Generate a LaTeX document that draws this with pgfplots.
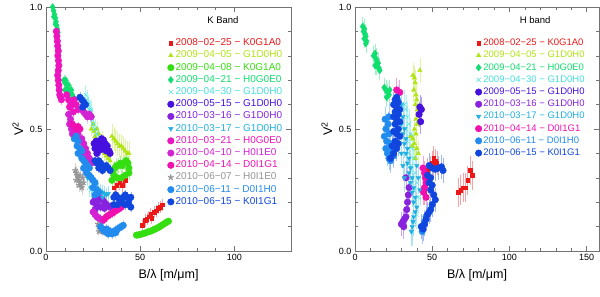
\documentclass[border=0pt]{standalone}
\usepackage{fontspec}
\setmainfont{Liberation Sans}
\usepackage{pgfplots}
\pgfplotsset{compat=1.18}
\definecolor{cRed}{RGB}{236,24,24}
\definecolor{cYG}{RGB}{176,228,20}
\definecolor{cGreen}{RGB}{52,222,16}
\definecolor{cSpring}{RGB}{16,222,110}
\definecolor{cCyan}{RGB}{70,222,222}
\definecolor{cViolet}{RGB}{70,16,222}
\definecolor{cPurple}{RGB}{136,34,222}
\definecolor{cCyanBlue}{RGB}{34,176,226}
\definecolor{cMag}{RGB}{236,20,190}
\definecolor{cMagB}{RGB}{210,34,210}
\definecolor{cMagC}{RGB}{240,16,176}
\definecolor{cGray}{RGB}{150,150,150}
\definecolor{cAzure}{RGB}{34,140,238}
\definecolor{cBlue}{RGB}{16,70,222}
\pgfplotsset{
  ser/.style n args={3}{only marks, color=#1, mark=#2, mark size=#3,
    error bars/y dir=both, error bars/y explicit, error bars/error mark=none,
    error bars/error bar style={#1!40, line width=0.6pt}},
  frame/.style={scale only axis, height=244pt, ymin=0, ymax=1,
    ytick={0,0.5,1}, minor x tick num=4, minor y tick num=4,
    tick align=inside, major tick length=5pt, minor tick length=3pt,
    axis line style={black!55}, tick style={black!55, line width=0.5pt},
    yticklabel style={/pgf/number format/.cd, fixed, fixed zerofill, precision=1},
    tick label style={font=\fontsize{9}{11}\selectfont},
    /pgf/number format/assume math mode=true,
    xlabel={B/λ [m/μm]}, ylabel={V\textsuperscript{2}},
    label style={font=\fontsize{12.5}{14}\selectfont},
    xlabel style={yshift=-2pt},
    legend cell align=left,
    legend style={draw=none, fill=none, anchor=north west,
      row sep=0.2pt,
      nodes={inner sep=1.5pt, text height=7pt, text depth=2pt}},
    clip=true}
}
\begin{document}
\begin{tikzpicture}
\useasboundingbox (0,0) rectangle (600pt,297pt);
% ---------------- K band ----------------
\begin{axis}[frame, at={(46pt,46pt)}, anchor=south west, width=245pt,
  xmin=0, xmax=130, xtick={0,50,100},
  legend style={at={(0.483,0.885)}, font=\fontsize{10}{11}\selectfont}]
\addplot[ser={cRed}{square*}{1.8pt}] table[y error index=2]{
x y e
36 0.26 0.03
37.5 0.27 0.03
39 0.28 0.03
40.5 0.27 0.03
42 0.29 0.03
51 0.105 0.02
52.5 0.125 0.025
53.5 0.13 0.025
54.5 0.14 0.025
55.5 0.15 0.025
56 0.135 0.025
57.5 0.16 0.025
58.5 0.165 0.025
59.5 0.175 0.025
60.5 0.18 0.025
61.5 0.19 0.025
};
\addlegendentry{\textcolor{cRed}{2008−02−25 − K0G1A0}}
\addplot[ser={cYG}{triangle*}{2.6pt}] table[y error index=2]{
x y e
24 0.50 0.03
25 0.52 0.03
25.5 0.49 0.03
26 0.47 0.03
27 0.50 0.03
28 0.48 0.03
28.5 0.45 0.03
29 0.43 0.03
30 0.41 0.03
31 0.40 0.03
32 0.39 0.03
33 0.38 0.03
34 0.37 0.03
27 0.44 0.03
30 0.46 0.03
35 0.47 0.05
36 0.46 0.05
37 0.45 0.05
38 0.44 0.05
39 0.43 0.05
40 0.43 0.05
41 0.42 0.05
42 0.41 0.05
43 0.40 0.05
44 0.40 0.05
26.5 0.21 0.02
27.5 0.20 0.02
};
\addlegendentry{\textcolor{cYG}{2009−04−05 − G1D0H0}}
\addplot[ser={cGreen}{*}{3.3pt}] table[y error index=2]{
x y e
35.5 0.33 0.03
36.5 0.34 0.03
37.5 0.35 0.03
38.5 0.35 0.03
39.5 0.36 0.03
40.5 0.35 0.03
41.5 0.36 0.03
42.5 0.37 0.03
43.5 0.36 0.03
44 0.34 0.03
36 0.31 0.03
38 0.30 0.03
40 0.30 0.03
42 0.31 0.03
44 0.32 0.03
35 0.29 0.03
48 0.065 0.01
49 0.066 0.01
50 0.068 0.01
51 0.07 0.01
52 0.072 0.01
53 0.075 0.01
54 0.078 0.01
55 0.08 0.01
56 0.083 0.01
57 0.087 0.01
58 0.09 0.01
59 0.094 0.01
60 0.098 0.01
61 0.103 0.01
62 0.108 0.01
63 0.113 0.01
64 0.118 0.01
65 0.122 0.01
};
\addlegendentry{\textcolor{cGreen}{2009−04−08 − K0G1A0}}
\addplot[ser={cSpring}{diamond*}{3.4pt}] table[y error index=2]{
x y e
3.5 1.0 0.02
4 0.985 0.02
4.5 0.97 0.02
5 0.955 0.02
5.3 0.94 0.02
5.6 0.925 0.02
6 0.91 0.02
6.3 0.895 0.02
4.2 0.96 0.02
5 0.93 0.02
9.5 0.70 0.02
10 0.69 0.02
10.5 0.70 0.02
11 0.68 0.02
11.5 0.67 0.02
12 0.68 0.02
12.5 0.66 0.02
13 0.65 0.02
13.5 0.66 0.02
14 0.64 0.02
14.5 0.63 0.02
10 0.66 0.02
11 0.65 0.02
12 0.64 0.02
};
\addlegendentry{\textcolor{cSpring}{2009−04−21 − H0G0E0}}
\addplot[ser={cCyan}{x}{3pt}] table[y error index=2]{
x y e
21 0.64 0.04
22 0.62 0.04
22.5 0.60 0.04
23 0.58 0.04
23.5 0.57 0.04
24 0.55 0.04
24.5 0.54 0.04
25 0.52 0.04
26 0.50 0.04
27 0.48 0.04
28 0.46 0.04
22 0.56 0.04
24 0.58 0.04
23 0.26 0.04
24 0.25 0.04
25 0.23 0.04
26 0.22 0.04
27 0.21 0.04
28 0.20 0.04
};
\addlegendentry{\textcolor{cCyan}{2009−04−30 − G1D0H0}}
\addplot[ser={cViolet}{*}{3.3pt}] table[y error index=2]{
x y e
25.5 0.44 0.02
26.5 0.45 0.02
27.5 0.44 0.02
28.5 0.45 0.02
29.5 0.46 0.02
30.5 0.455 0.02
31.5 0.44 0.02
32.5 0.43 0.02
33.5 0.41 0.02
34 0.40 0.02
26 0.42 0.02
28 0.42 0.02
30 0.43 0.02
32 0.41 0.02
27 0.40 0.02
29 0.415 0.02
};
\addlegendentry{\textcolor{cViolet}{2009−05−15 − G1D0H0}}
\addplot[ser={cPurple}{*}{3.3pt}] table[y error index=2]{
x y e
25 0.20 0.02
26 0.21 0.02
27 0.22 0.02
28 0.21 0.02
29 0.215 0.02
30 0.21 0.02
31 0.20 0.02
32 0.19 0.02
33 0.185 0.02
34 0.18 0.02
27 0.19 0.02
29 0.18 0.02
31 0.175 0.02
26 0.17 0.02
};
\addlegendentry{\textcolor{cPurple}{2010−03−16 − G1D0H0}}
\addplot[ser={cCyanBlue}{triangle*}{2.6pt}, mark options={rotate=180}] table[y error index=2]{
x y e
20 0.34 0.03
21 0.33 0.03
22 0.32 0.03
22 0.30 0.03
23 0.31 0.03
24 0.29 0.03
25 0.28 0.03
26 0.27 0.03
27 0.26 0.03
28 0.25 0.03
29 0.245 0.03
30 0.24 0.03
31 0.235 0.03
32 0.23 0.03
33 0.235 0.03
24 0.26 0.03
26 0.25 0.03
28 0.235 0.03
30 0.22 0.03
};
\addlegendentry{\textcolor{cCyanBlue}{2010−03−17 − G1D0H0}}
\addplot[ser={cMag}{*}{3.3pt}] table[y error index=2]{
x y e
5.5 0.90 0.02
5.8 0.88 0.02
6 0.86 0.02
6.2 0.84 0.02
6.5 0.82 0.02
6.3 0.80 0.02
6.6 0.78 0.02
6.8 0.76 0.02
6.5 0.74 0.02
6.2 0.72 0.02
6.5 0.70 0.02
6.8 0.68 0.02
7 0.66 0.02
7.3 0.64 0.02
7.8 0.63 0.02
8.2 0.62 0.02
11 0.64 0.02
12 0.62 0.02
13 0.61 0.02
14 0.60 0.02
15 0.62 0.02
16 0.60 0.02
17 0.58 0.02
12.5 0.59 0.02
14.5 0.57 0.02
};
\addlegendentry{\textcolor{cMag}{2010−03−21 − H0G0E0}}
\addplot[ser={cMagB}{*}{3.3pt}] table[y error index=2]{
x y e
12 0.56 0.02
13 0.54 0.02
12.5 0.52 0.02
13.5 0.50 0.02
14 0.48 0.02
15 0.47 0.02
16 0.46 0.02
17 0.48 0.02
19 0.58 0.02
20 0.57 0.02
21 0.56 0.02
22 0.55 0.02
23 0.56 0.02
24 0.55 0.02
19 0.46 0.02
20 0.44 0.02
21 0.42 0.02
22 0.40 0.02
23 0.38 0.02
24 0.36 0.02
20 0.39 0.02
22 0.37 0.02
25 0.16 0.02
26 0.15 0.02
27 0.14 0.02
28 0.135 0.02
29 0.13 0.02
30 0.125 0.02
};
\addlegendentry{\textcolor{cMagB}{2010−04−10 − H0I1E0}}
\addplot[ser={cMagC}{*}{3.3pt}] table[y error index=2]{
x y e
14 0.52 0.02
15 0.51 0.02
16 0.50 0.02
17 0.51 0.02
18 0.50 0.02
31 0.13 0.02
32 0.14 0.02
33 0.145 0.02
34 0.15 0.02
35 0.155 0.02
36 0.16 0.02
37 0.165 0.02
38 0.17 0.02
39 0.175 0.02
40 0.18 0.02
};
\addlegendentry{\textcolor{cMagC}{2010−04−14 − D0I1G1}}
\addplot[ser={cGray}{star}{3pt}, mark options={line width=1.2pt}] table[y error index=2]{
x y e
15.5 0.33 0.03
16 0.32 0.03
16.5 0.31 0.03
17 0.30 0.03
17.5 0.29 0.03
18 0.28 0.03
18.5 0.27 0.03
19 0.26 0.03
16 0.29 0.03
17.5 0.27 0.03
18 0.31 0.03
19.5 0.30 0.03
20 0.28 0.03
27.5 0.11 0.02
28 0.10 0.02
28.5 0.095 0.02
29 0.09 0.02
29.5 0.085 0.02
30 0.08 0.02
28 0.08 0.02
};
\addlegendentry{\textcolor{cGray}{2010−06−07 − H0I1E0}}
\addplot[ser={cAzure}{*}{3.3pt}] table[y error index=2]{
x y e
15 0.46 0.02
16 0.47 0.02
17 0.45 0.02
16.5 0.43 0.02
18 0.42 0.02
17 0.40 0.02
19 0.41 0.02
19 0.38 0.02
20 0.37 0.02
21 0.36 0.02
20 0.34 0.02
22 0.35 0.02
23 0.34 0.02
21.5 0.32 0.02
23 0.31 0.02
24 0.30 0.02
25 0.29 0.02
26 0.28 0.02
25 0.26 0.02
27 0.25 0.02
28 0.24 0.02
26 0.23 0.02
29 0.10 0.02
30 0.09 0.02
31 0.08 0.02
32 0.09 0.02
33 0.085 0.02
34 0.08 0.02
35 0.075 0.02
36 0.08 0.02
37 0.085 0.02
38 0.09 0.02
39 0.095 0.02
40 0.10 0.02
41 0.105 0.02
33 0.07 0.02
35 0.07 0.02
37 0.075 0.02
};
\addlegendentry{\textcolor{cAzure}{2010−06−11 − D0I1H0}}
\addplot[ser={cBlue}{*}{3.3pt}] table[y error index=2]{
x y e
18 0.63 0.02
19 0.62 0.02
20 0.61 0.02
21 0.60 0.02
19.5 0.59 0.02
26 0.37 0.02
27 0.36 0.02
28 0.37 0.02
29 0.36 0.02
30 0.35 0.02
31 0.34 0.02
32 0.35 0.02
33 0.34 0.02
34 0.33 0.02
28 0.34 0.02
30 0.33 0.02
36 0.22 0.02
37 0.23 0.02
38 0.22 0.02
39 0.21 0.02
40 0.21 0.02
41 0.22 0.02
42 0.23 0.02
43 0.22 0.02
44 0.21 0.02
45 0.22 0.02
36 0.19 0.02
38 0.19 0.02
40 0.20 0.02
42 0.19 0.02
44 0.19 0.02
45 0.18 0.02
};
\addlegendentry{\textcolor{cBlue}{2010−06−15 − K0I1G1}}
\node[font=\fontsize{9.5}{11}\selectfont] at (axis description cs:0.722,0.947) {K Band};
\end{axis}
% ---------------- H band ----------------
\begin{axis}[frame, at={(355pt,46pt)}, anchor=south west, width=244pt,
  xmin=0, xmax=158, xtick={0,50,100,150},
  legend style={at={(0.48,0.885)}, font=\fontsize{9.5}{11}\selectfont}]
\addplot[ser={cRed}{square*}{1.8pt}] table[y error index=2]{
x y e
45 0.24 0.05
46 0.22 0.05
47 0.33 0.05
48 0.35 0.05
49 0.34 0.05
50 0.36 0.05
51 0.38 0.05
52 0.37 0.05
53 0.36 0.05
51 0.35 0.05
67 0.24 0.06
68.5 0.25 0.06
70 0.26 0.06
71.5 0.26 0.06
73 0.29 0.06
74.5 0.33 0.06
76 0.31 0.06
};
\addlegendentry{\textcolor{cRed}{2008−02−25 − K0G1A0}}
\addplot[ser={cYG}{triangle*}{2.6pt}] table[y error index=2]{
x y e
37.5 0.72 0.05
42 0.74 0.05
38.5 0.71 0.05
39 0.69 0.05
38 0.66 0.05
39.5 0.64 0.05
40 0.62 0.05
39 0.60 0.05
40.5 0.58 0.05
41 0.56 0.05
39.5 0.54 0.05
40 0.52 0.05
38.5 0.50 0.05
39.5 0.48 0.05
37.5 0.46 0.05
38.5 0.44 0.05
40 0.42 0.05
41 0.40 0.05
39 0.38 0.05
37 0.43 0.05
36 0.47 0.05
};
\addlegendentry{\textcolor{cYG}{2009−04−05 − G1D0H0}}
\addplot[ser={cSpring}{diamond*}{3.4pt}] table[y error index=2]{
x y e
5 0.92 0.04
5.5 0.90 0.04
6 0.91 0.04
6.5 0.89 0.04
7 0.88 0.04
6 0.87 0.04
7.5 0.86 0.04
7 0.85 0.04
12 0.80 0.04
13 0.81 0.04
13.5 0.79 0.04
14 0.78 0.04
15 0.77 0.04
14 0.76 0.04
15.5 0.75 0.04
16 0.74 0.04
13 0.76 0.04
19 0.67 0.04
20 0.66 0.04
21 0.65 0.04
22 0.64 0.04
20.5 0.63 0.04
22.5 0.66 0.04
};
\addlegendentry{\textcolor{cSpring}{2009−04−21 − H0G0E0}}
\addplot[ser={cCyan}{x}{3pt}] table[y error index=2]{
x y e
32 0.60 0.06
33 0.58 0.06
34 0.55 0.06
35 0.52 0.06
33 0.50 0.06
36 0.48 0.06
34 0.45 0.06
37 0.42 0.06
35 0.40 0.06
38 0.38 0.06
36 0.35 0.06
39 0.32 0.06
37 0.30 0.06
40 0.28 0.06
38 0.25 0.06
41 0.22 0.06
39 0.20 0.06
40 0.15 0.06
38 0.12 0.06
37 0.08 0.06
};
\addlegendentry{\textcolor{cCyan}{2009−04−30 − G1D0H0}}
\addplot[ser={cViolet}{*}{3.3pt}] table[y error index=2]{
x y e
42 0.59 0.05
43 0.58 0.05
41.5 0.56 0.05
42.5 0.53 0.05
};
\addlegendentry{\textcolor{cViolet}{2009−05−15 − G1D0H0}}
\addplot[ser={cPurple}{*}{3.3pt}] table[y error index=2]{
x y e
30 0.11 0.05
31 0.12 0.05
32 0.13 0.05
31.5 0.10 0.05
33 0.14 0.05
33.5 0.17 0.05
34 0.20 0.05
34.5 0.23 0.05
35 0.26 0.05
33 0.30 0.05
};
\addlegendentry{\textcolor{cPurple}{2010−03−16 − G1D0H0}}
\addplot[ser={cCyanBlue}{triangle*}{2.6pt}, mark options={rotate=180}] table[y error index=2]{
x y e
28 0.62 0.06
30 0.60 0.06
29 0.57 0.06
31 0.55 0.06
30 0.52 0.06
32 0.50 0.06
31 0.48 0.06
33 0.46 0.06
32 0.44 0.06
34 0.42 0.06
33 0.40 0.06
35 0.38 0.06
34 0.36 0.06
36 0.34 0.06
35 0.32 0.06
37 0.30 0.06
36 0.28 0.06
38 0.26 0.06
37 0.24 0.06
39 0.22 0.06
38 0.20 0.06
40 0.18 0.06
39 0.16 0.06
38 0.14 0.06
37.5 0.12 0.06
37 0.10 0.06
36.5 0.08 0.06
40 0.35 0.06
41 0.30 0.06
42 0.25 0.06
30 0.40 0.06
31 0.35 0.06
32 0.30 0.06
};
\addlegendentry{\textcolor{cCyanBlue}{2010−03−17 − G1D0H0}}
\addplot[ser={cMagC}{*}{3.3pt}] table[y error index=2]{
x y e
44 0.34 0.05
45 0.32 0.05
45.5 0.30 0.05
46 0.28 0.05
45 0.26 0.05
44.5 0.24 0.05
46 0.22 0.05
27 0.66 0.05
29 0.65 0.05
};
\addlegendentry{\textcolor{cMagC}{2010−04−14 − D0I1G1}}
\addplot[ser={cAzure}{*}{3.3pt}] table[y error index=2]{
x y e
19.5 0.54 0.05
20 0.50 0.05
19 0.47 0.05
20.5 0.45 0.05
20 0.42 0.05
21 0.40 0.05
22 0.38 0.05
21.5 0.52 0.05
22 0.48 0.05
23 0.44 0.05
24 0.41 0.05
23 0.37 0.05
25 0.39 0.05
22 0.55 0.05
43 0.10 0.05
44 0.09 0.05
43.5 0.08 0.05
45 0.12 0.05
46 0.14 0.05
};
\addlegendentry{\textcolor{cAzure}{2010−06−11 − D0I1H0}}
\addplot[ser={cBlue}{*}{3.3pt}] table[y error index=2]{
x y e
26 0.62 0.05
27 0.63 0.05
28 0.61 0.05
25 0.60 0.05
27 0.59 0.05
29 0.58 0.05
26 0.57 0.05
28 0.56 0.05
25 0.55 0.05
27 0.54 0.05
29 0.53 0.05
26 0.52 0.05
28 0.50 0.05
25 0.49 0.05
27 0.48 0.05
29 0.47 0.05
26 0.45 0.05
28 0.44 0.05
24 0.43 0.05
27 0.42 0.05
25 0.40 0.05
23 0.38 0.05
48 0.35 0.05
50 0.34 0.05
52 0.335 0.05
54 0.34 0.05
56 0.345 0.05
57 0.33 0.05
47 0.31 0.05
49 0.30 0.05
48 0.28 0.05
50 0.27 0.05
49 0.25 0.05
51 0.23 0.05
52 0.21 0.05
50 0.19 0.05
49 0.17 0.05
47 0.15 0.05
46 0.13 0.05
45 0.11 0.05
44 0.09 0.05
43 0.10 0.05
48 0.16 0.05
};
\addlegendentry{\textcolor{cBlue}{2010−06−15 − K0I1G1}}
\node[font=\fontsize{9.5}{11}\selectfont] at (axis description cs:0.738,0.947) {H band};
\end{axis}
\end{tikzpicture}
\end{document}
